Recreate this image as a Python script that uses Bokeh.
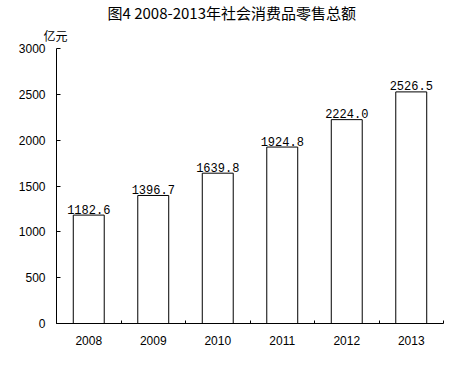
import numpy as np
from bokeh.plotting import figure
from bokeh.models import Range1d, FixedTicker, Title, ColumnDataSource
from bokeh.core.properties import value
from bokeh.embed import file_html
from bokeh.resources import INLINE

years = ["2008", "2009", "2010", "2011", "2012", "2013"]
sales = [1182.6, 1396.7, 1639.8, 1924.8, 2224.0, 2526.5]
y_ticks = [0, 500, 1000, 1500, 2000, 2500, 3000]
title_text = "图4 2008-2013年社会消费品零售总额"
unit_text = "亿元"

n = len(years)
centers = np.arange(n) + 0.5
labels = [f"{v:.1f}" for v in sales]
src = ColumnDataSource(dict(x=centers, top=sales, label=labels))

p = figure(width=455, height=369, output_backend="svg", toolbar_location=None,
           x_range=Range1d(0, n), y_range=Range1d(0, 3000), title=None,
           min_border_left=56, min_border_right=12, min_border_top=48, min_border_bottom=46)
p.outline_line_color = None
p.xgrid.visible = False
p.ygrid.visible = False
p.background_fill_color = "white"
p.border_fill_color = "white"

p.vbar(x="x", top="top", width=0.48, bottom=0, source=src,
       fill_color="white", line_color="black", line_width=1)
p.text(x="x", y="top", text="label", source=src, text_align="center",
       text_baseline="alphabetic", y_offset=-6,
       text_font=value("Liberation Mono"), text_font_size="12px", text_color="black")

# x axis
xa = p.xaxis[0]
xa.ticker = FixedTicker(ticks=list(centers), minor_ticks=list(range(0, n + 1)))
xa.major_label_overrides = {float(c): y for c, y in zip(centers, years)}
xa.major_tick_in = 0
xa.major_tick_out = 0
xa.minor_tick_in = 3
xa.minor_tick_out = 0
xa.major_label_standoff = 12
xa.major_label_text_font = "Liberation Sans"
xa.major_label_text_font_size = "12px"
xa.major_label_text_color = "black"
xa.axis_line_color = "black"
xa.minor_tick_line_color = "black"

ya = p.yaxis[0]
ya.ticker = FixedTicker(ticks=y_ticks)
ya.major_tick_in = 4
ya.major_tick_out = 0
ya.minor_tick_line_color = None
ya.major_label_standoff = 11
ya.major_label_text_font = "Liberation Sans"
ya.major_label_text_font_size = "12px"
ya.major_label_text_color = "black"
ya.axis_line_color = "black"
ya.major_tick_line_color = "black"

# unit label (nearest the frame), then main title above it
p.add_layout(Title(text=unit_text, align="left", offset=-13, standoff=10,
                   text_font="Noto Sans CJK SC", text_font_size="12px",
                   text_font_style="normal", text_color="black"), "above")
p.add_layout(Title(text=title_text, align="left", offset=51, standoff=-6,
                   text_font="Noto Sans CJK SC", text_font_size="15px",
                   text_font_style="normal", text_color="black"), "above")

open("out.html", "w").write(file_html(p, INLINE))
